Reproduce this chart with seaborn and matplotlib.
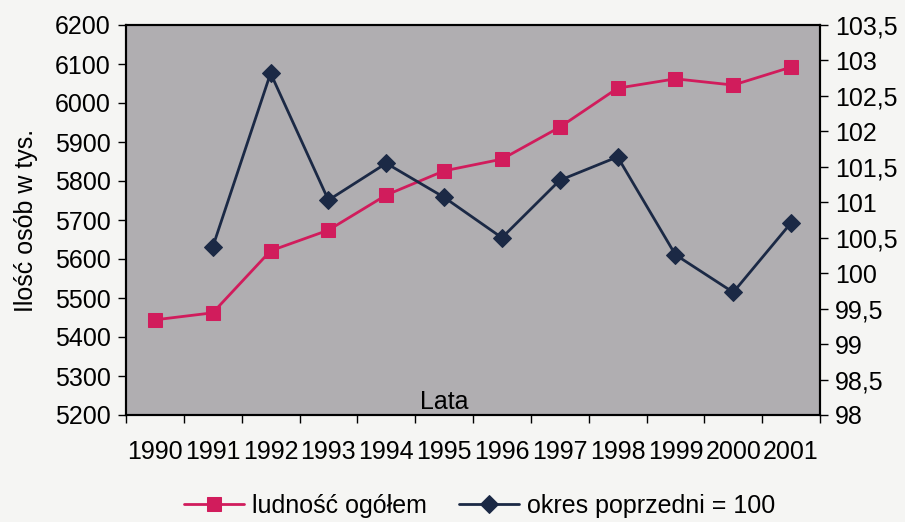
import matplotlib
matplotlib.use("Agg")
import matplotlib.pyplot as plt
import numpy as np
import pandas as pd
import seaborn as sns

# dane
years = list(range(1990, 2002))
ludnosc = [5444, 5462, 5621, 5674, 5764, 5826, 5856, 5938, 6038, 6062, 6046, 6092]
dyn_years = list(range(1991, 2002))
dynamika = [100.37, 102.82, 101.03, 101.55, 101.07, 100.5, 101.31, 101.64, 100.26, 99.73, 100.71]

left_ticks = list(range(5200, 6201, 100))
right_ticks = [98, 98.5, 99, 99.5, 100, 100.5, 101, 101.5, 102, 102.5, 103, 103.5]

PINK = "#d11c5c"
NAVY = "#1b2945"
FS = 18

sns.set_theme(style="white")
plt.rcParams["font.family"] = ["Liberation Sans", "DejaVu Sans"]
plt.rcParams["text.color"] = "black"
plt.rcParams["xtick.color"] = "black"
plt.rcParams["ytick.color"] = "black"
plt.rcParams["axes.labelcolor"] = "black"

fig = plt.figure(figsize=(9.05, 5.22), dpi=100, facecolor="#f5f5f3")
ax = fig.add_axes([126 / 905, 1 - 415 / 522, (820 - 126) / 905, (415 - 25) / 522])
ax.set_facecolor("#b0aeb1")
ax2 = ax.twinx()

df1 = pd.DataFrame({"rok": years, "wartosc": ludnosc})
df2 = pd.DataFrame({"rok": dyn_years, "wartosc": dynamika})

sns.lineplot(data=df1, x="rok", y="wartosc", ax=ax, color=PINK, marker="s",
             markersize=10, markeredgecolor=PINK, linewidth=2, label="ludność ogółem",
             legend=False)
sns.lineplot(data=df2, x="rok", y="wartosc", ax=ax2, color=NAVY, marker="D",
             markersize=9, markeredgecolor=NAVY, linewidth=2, label="okres poprzedni = 100",
             legend=False)

ax.set_xlim(years[0] - 0.5, years[-1] + 0.5)
ax.set_ylim(left_ticks[0], left_ticks[-1])
ax2.set_ylim(right_ticks[0], right_ticks[-1])

ax.set_xticks(years)
ax.set_xticklabels([str(y) for y in years], fontsize=FS)
ax.set_xticks(np.arange(years[0] - 0.5, years[-1] + 1, 1), minor=True)
ax.tick_params(axis="x", which="major", length=0, pad=18)
ax.tick_params(axis="x", which="minor", length=6, width=1, color="black", direction="out", bottom=True)

ax.set_yticks(left_ticks)
ax.set_yticklabels([str(v) for v in left_ticks], fontsize=FS)
ax.tick_params(axis="y", length=6, width=1, color="black", direction="out", left=True, pad=5)

ax2.set_yticks(right_ticks)
ax2.set_yticklabels([f"{v:g}".replace(".", ",") for v in right_ticks], fontsize=FS)
ax2.tick_params(axis="y", length=6, width=1, color="black", direction="out", right=True, pad=5)

ax.set_xlabel("")
ax.set_ylabel("Ilość osób w tys.", fontsize=FS, labelpad=12)
ax2.set_ylabel("")

for a in (ax, ax2):
    for s in a.spines.values():
        s.set_color("black")
        s.set_linewidth(1.5)

ax.text(1995, 0.003, "Lata", transform=ax.get_xaxis_transform(), ha="center",
        va="bottom", fontsize=FS, color="black")

h1, l1 = ax.get_legend_handles_labels()
h2, l2 = ax2.get_legend_handles_labels()
fig.legend(h1 + h2, l1 + l2, loc="lower center", bbox_to_anchor=(0.53, -0.035), ncol=2,
           frameon=False, fontsize=FS, handlelength=2.4, columnspacing=1.3,
           handletextpad=0.3, numpoints=1)

fig.savefig("out.png", dpi=100, facecolor=fig.get_facecolor())
